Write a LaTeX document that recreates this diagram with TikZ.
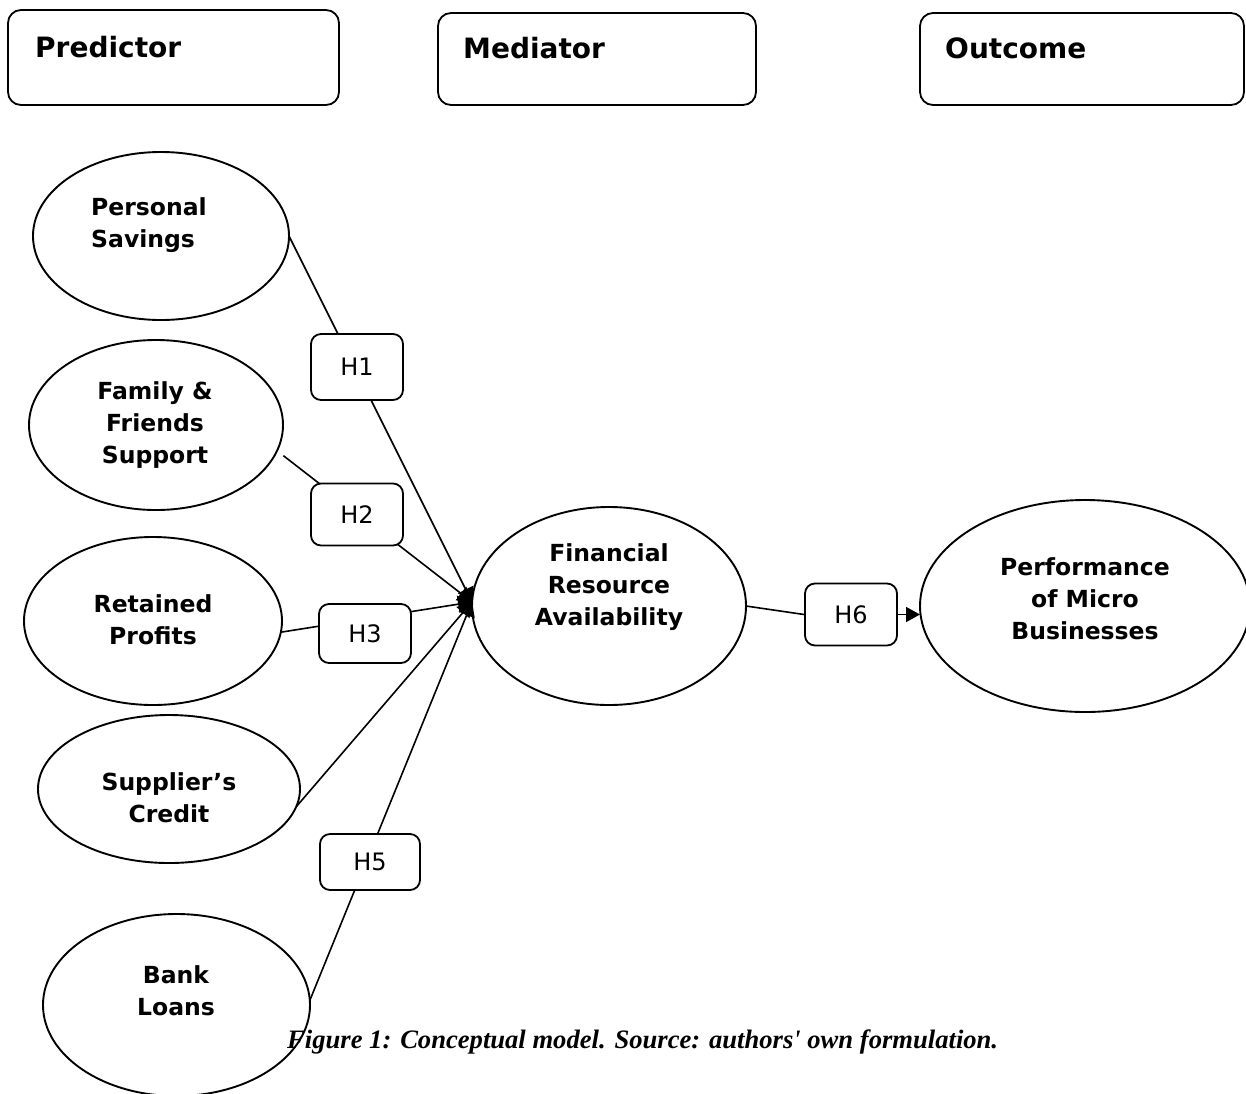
\documentclass[tikz,border=0pt]{standalone}
\usepackage{fontspec}
\setmainfont{DejaVu Sans}
\newfontfamily\capfont{Liberation Serif}
\usetikzlibrary{arrows.meta,calc,shapes.geometric}
\tikzset{
  ell/.style={draw, ellipse, line width=1.9pt, inner sep=0pt, outer sep=0pt},
  etxt/.style={font=\bfseries\fontsize{23.5}{32}\selectfont, align=center, inner sep=0pt},
  hbox/.style={draw, rounded corners=10pt, line width=1.8pt, fill=white, minimum width=92pt, minimum height=62pt, inner sep=0pt, font=\fontsize{24}{28}\selectfont},
  topbox/.style={draw, rounded corners=13pt, line width=1.8pt, inner sep=0pt},
  hdr/.style={font=\bfseries\fontsize{28}{32}\selectfont, inner sep=0pt, anchor=west},
  conn/.style={line width=1.6pt},
  tipc/.style={-{Triangle[length=14pt,width=17pt]}},
}
\begin{document}
\begin{tikzpicture}[x=1pt,y=-1pt]
\useasboundingbox (0,0) rectangle (1246,1093);
% header boxes
\node[topbox, minimum width=331pt, minimum height=95pt] (pred) at (173.5,57.5) {};
\node[hdr] at (35,47) {Predictor};
\node[topbox, minimum width=318pt, minimum height=92pt] (med) at (597,59) {};
\node[hdr] at (463,48) {Mediator};
\node[topbox, minimum width=324pt, minimum height=92pt] (out) at (1082,59) {};
\node[hdr] at (945,48) {Outcome};
% ellipses
\node[ell, minimum width=256pt, minimum height=168pt] (ps) at (161,236) {};
\node[ell, minimum width=254pt, minimum height=170pt] (ff) at (156,425) {};
\node[ell, minimum width=258pt, minimum height=168pt] (rp) at (153,621) {};
\node[ell, minimum width=262pt, minimum height=148pt] (sc) at (169,789) {};
\node[ell, minimum width=267pt, minimum height=182pt] (bl) at (176.5,1005) {};
\node[ell, minimum width=274pt, minimum height=198pt] (fra) at (609,606) {};
\node[ell, minimum width=330pt, minimum height=212pt] (perf) at (1085,606) {};
% connectors
\coordinate (conv) at (472,602);
\draw[conn,tipc] (ps.east) -- (conv);
\draw[conn,tipc,shorten <=8pt] (ff.-12) -- (conv);
\draw[conn,tipc] (rp.-5) -- (conv);
\draw[conn,tipc] (sc.-8) -- (conv);
\draw[conn,tipc] (bl.2) -- (conv);
% hypothesis boxes
\node[hbox, minimum height=66pt] (h1) at (357,367) {H1};
\node[hbox] (h2) at (357,514.5) {H2};
\node[hbox, minimum height=59pt] (h3) at (365,633.5) {H3};
\node[hbox, minimum width=100pt, minimum height=56pt] (h5) at (370,862) {H5};
\node[hbox] (h6) at (851,614.5) {H6};
\draw[conn] (fra.east) -- (h6.west);
\draw[conn,-{Triangle[length=14pt,width=15pt]}] (h6.east) -- (h6.east -| perf.west);
% ellipse texts
\node[etxt, align=left] at (149,225) {Personal\\Savings};
\node[etxt] at (155,425) {Family \&\\Friends\\Support};
\node[etxt] at (153,620) {Retained\\Profits};
\node[etxt] at (169,798) {Supplier’s\\Credit};
\node[etxt] at (176,991) {Bank\\Loans};
\node[etxt] at (609,587) {Financial\\Resource\\Availability};
\node[etxt] at (1085,599) {Performance\\of Micro\\Businesses};
% caption
\node[font=\capfont\bfseries\itshape\fontsize{26.6}{30}\selectfont, anchor=base west, inner sep=0pt] (cap) at (287,1048) {Figure 1: Conceptual model. Source: authors' own formulation.};
\end{tikzpicture}
\end{document}
